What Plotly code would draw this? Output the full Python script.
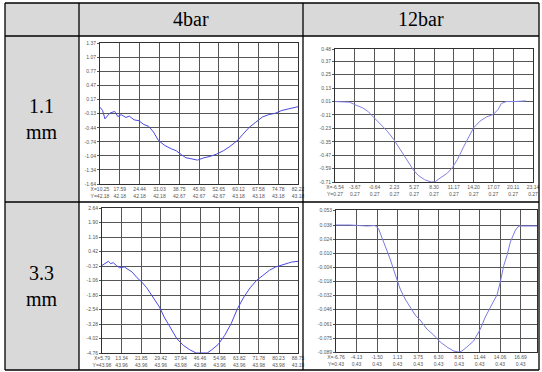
import plotly.graph_objects as go

W, H = 542, 372

# ---------------- data ----------------
col_headers = ["4bar", "12bar"]
row_headers = ["1.1<br>mm", "3.3<br>mm"]

# chart 1: 4bar, 1.1 mm
c1_x = [0, 0.13, 0.25, 0.49, 0.74, 0.9, 1.07, 1.31, 1.48, 1.72, 1.97, 2.21, 2.46, 2.7, 2.95, 3.28, 3.61,
        3.85, 4.1, 4.34, 4.59, 4.92, 5.25, 5.57, 5.9, 6.23, 6.56, 6.97, 7.21, 7.54, 7.87, 8.2, 8.52, 8.85,
        9.18, 9.5, 9.84, 10.0]
c1_y = [0.0, -0.07, -0.25, -0.13, -0.09, -0.20, -0.16, -0.22, -0.19, -0.27, -0.29, -0.37, -0.41, -0.53,
        -0.71, -0.82, -0.89, -0.93, -1.01, -1.08, -1.10, -1.13, -1.08, -1.05, -1.00, -0.93, -0.84, -0.70,
        -0.58, -0.43, -0.32, -0.21, -0.16, -0.13, -0.07, -0.04, 0.0, 0.01]
c1_yticks = ["1.37", "1.07", "0.77", "0.47", "0.17", "-0.13", "-0.44", "-0.74", "-1.04", "-1.34", "-1.64"]
c1_xticks = ["X=10.25<br>Y=42.18", "17.59<br>42.18", "24.44<br>42.18", "31.03<br>42.18", "38.75<br>42.67",
             "45.90<br>42.67", "52.65<br>42.67", "60.12<br>43.18", "67.58<br>43.18", "74.78<br>43.18",
             "82.22<br>43.18"]

# chart 2: 12bar, 1.1 mm
c2_x = [0, 0.74, 0.99, 1.4, 1.65, 1.98, 2.31, 2.64, 2.97, 3.29, 3.62, 3.95, 4.2, 4.53, 4.86, 5.06, 5.35,
        5.68, 5.93, 6.18, 6.51, 6.84, 7.0, 7.33, 7.66, 7.99, 8.24, 8.4, 8.65, 9.14, 9.64]
c2_y = [0.01, 0.004, -0.017, -0.047, -0.076, -0.136, -0.195, -0.255, -0.33, -0.42, -0.51, -0.60, -0.65,
        -0.69, -0.71, -0.707, -0.67, -0.63, -0.58, -0.51, -0.39, -0.284, -0.225, -0.165, -0.127, -0.106,
        -0.061, -0.008, 0.01, 0.01, 0.016]
c2_yticks = ["0.48", "0.37", "0.25", "0.13", "0.01", "-0.11", "-0.23", "-0.35", "-0.47", "-0.59", "-0.71"]
c2_xticks = ["X=-6.54<br>Y=0.27", "-3.67<br>0.27", "-0.64<br>0.27", "2.23<br>0.27", "5.27<br>0.27",
             "8.30<br>0.27", "11.17<br>0.27", "14.20<br>0.27", "17.07<br>0.27", "20.11<br>0.27",
             "23.14<br>0.27"]

# chart 3: 4bar, 3.3 mm
c3_x = [0, 0.16, 0.33, 0.44, 0.57, 0.73, 0.89, 1.14, 1.3, 1.54, 1.79, 2.03, 2.28, 2.6, 2.93, 3.17, 3.5,
        3.82, 4.15, 4.47, 4.8, 5.12, 5.37, 5.61, 5.93, 6.26, 6.59, 6.91, 7.24, 7.56, 7.89, 8.21, 8.54,
        8.86, 9.19, 9.51, 9.67, 10.0]
c3_y = [-0.29, -0.20, -0.08, -0.20, -0.15, -0.29, -0.41, -0.37, -0.46, -0.63, -0.92, -1.14, -1.43, -1.90,
        -2.41, -2.92, -3.52, -4.03, -4.37, -4.59, -4.76, -4.76, -4.76, -4.59, -4.32, -3.86, -3.26, -2.50,
        -1.90, -1.43, -1.05, -0.80, -0.54, -0.37, -0.25, -0.17, -0.12, -0.08]
c3_yticks = ["2.64", "1.90", "1.16", "0.42", "-0.32", "-1.06", "-1.80", "-2.54", "-3.28", "-4.02", "-4.76"]
c3_xticks = ["X=5.79<br>Y=43.98", "13.34<br>43.96", "21.85<br>43.96", "29.42<br>43.96", "37.94<br>43.98",
             "46.46<br>43.98", "54.96<br>43.96", "63.82<br>43.96", "71.78<br>43.98", "80.23<br>43.98",
             "88.75<br>43.19"]

# chart 4: 12bar, 3.3 mm
c4_x = [0, 0.68, 1.5, 1.9, 2.07, 2.23, 2.44, 2.64, 2.88, 3.13, 3.37, 3.62, 3.86, 4.1, 4.43, 4.76, 5.08,
        5.41, 5.73, 5.98, 6.14, 6.38, 6.71, 7.04, 7.28, 7.61, 7.85, 8.01, 8.18, 8.34, 8.5, 8.75, 8.91,
        9.32, 9.8]
c4_y = [0.038, 0.038, 0.037, 0.0375, 0.0344, 0.026, 0.016, 0.004, -0.011, -0.026, -0.036, -0.044, -0.052,
        -0.057, -0.066, -0.072, -0.079, -0.084, -0.088, -0.089, -0.088, -0.084, -0.078, -0.066, -0.054,
        -0.041, -0.032, -0.019, -0.0025, 0.0077, 0.021, 0.033, 0.037, 0.037, 0.037]
c4_yticks = ["0.053", "0.038", "0.024", "0.010", "-0.004", "-0.018", "-0.032", "-0.046", "-0.061",
             "-0.075", "-0.089"]
c4_xticks = ["X=-6.76<br>Y=0.43", "-4.13<br>0.43", "-1.50<br>0.43", "1.13<br>0.43", "3.75<br>0.43",
             "6.30<br>0.43", "8.81<br>0.43", "11.44<br>0.43", "14.06<br>0.43", "16.69<br>0.43",
             "19.32<br>0.43"]

# ---------------- layout helpers ----------------
def px(x):
    return x / W

def py(y):
    return 1 - y / H

charts = [
    dict(x=c1_x, y=c1_y, yt=c1_yticks, xt=c1_xticks, box=(100, 43, 298, 184), color="#4a4ae0", xmax=10),
    dict(x=c2_x, y=c2_y, yt=c2_yticks, xt=c2_xticks, box=(335, 49, 533, 182), color="#8080e0", xmax=10),
    dict(x=c3_x, y=c3_y, yt=c3_yticks, xt=c3_xticks, box=(102, 208, 298, 353), color="#4a4ae8", xmax=10),
    dict(x=c4_x, y=c4_y, yt=c4_yticks, xt=c4_xticks, box=(336, 210, 537, 352), color="#7a7ae0", xmax=9.8),
]

fig = go.Figure()
layout = dict(width=W, height=H, autosize=False, margin=dict(l=0, r=0, t=0, b=0, pad=0),
              paper_bgcolor="white", plot_bgcolor="white", showlegend=False)

tickfont = dict(family="Liberation Sans", size=5, color="#555555")

for i, c in enumerate(charts, start=1):
    xa = "x" if i == 1 else f"x{i}"
    ya = "y" if i == 1 else f"y{i}"
    fig.add_trace(go.Scatter(x=c["x"], y=c["y"], mode="lines", xaxis=xa, yaxis=ya,
                             line=dict(color=c["color"], width=1), hoverinfo="skip"))
    yvals = [float(v) for v in c["yt"]]
    x0, y0, x1, y1 = c["box"]
    layout["xaxis" if i == 1 else f"xaxis{i}"] = dict(
        domain=[px(x0), px(x1)], anchor=ya, range=[0, c["xmax"]], automargin=False,
        tickvals=list(range(11)), ticktext=c["xt"], showgrid=True, gridcolor="#555555", gridwidth=1,
        zeroline=False, showline=True, linecolor="#303030", linewidth=1, mirror=True,
        ticks="", tickfont=tickfont, fixedrange=True)
    layout["yaxis" if i == 1 else f"yaxis{i}"] = dict(
        domain=[py(y1), py(y0)], anchor=xa, range=[yvals[-1], yvals[0]], automargin=False,
        tickvals=yvals, ticktext=c["yt"], showgrid=True, gridcolor="#555555", gridwidth=1,
        zeroline=False, showline=True, linecolor="#303030", linewidth=1, mirror=True,
        ticks="outside", ticklen=2, tickcolor="#555555", tickfont=tickfont, fixedrange=True)

# ---------------- table ----------------
L, R, T, B = 5, 539, 3, 370
c_div = [79, 303]
r_div = [36, 202]
gray = "#d9d9d9"
shapes = []
shapes.append(dict(type="rect", xref="paper", yref="paper", x0=px(L), x1=px(R), y0=py(r_div[0]), y1=py(T),
                   fillcolor=gray, line=dict(width=0), layer="below"))
shapes.append(dict(type="rect", xref="paper", yref="paper", x0=px(L), x1=px(c_div[0]), y0=py(B), y1=py(T),
                   fillcolor=gray, line=dict(width=0), layer="below"))
line_style = dict(color="black", width=1.3)
for xv in [L] + c_div + [R]:
    shapes.append(dict(type="line", xref="paper", yref="paper", x0=px(xv), x1=px(xv), y0=py(T), y1=py(B),
                       line=line_style))
for yv in [T] + r_div + [B]:
    shapes.append(dict(type="line", xref="paper", yref="paper", x0=px(L), x1=px(R), y0=py(yv), y1=py(yv),
                       line=line_style))
layout["shapes"] = shapes

font_big = dict(family="Liberation Serif", size=20, color="black")
ann = []
col_centers = [(c_div[0] + c_div[1]) / 2, (c_div[1] + R) / 2]
for t, cx in zip(col_headers, col_centers):
    ann.append(dict(text=t, x=px(cx), y=py((T + r_div[0]) / 2), xref="paper", yref="paper",
                    showarrow=False, font=font_big, xanchor="center", yanchor="middle"))
row_centers = [(r_div[0] + r_div[1]) / 2, (r_div[1] + B) / 2]
for t, cy in zip(row_headers, row_centers):
    ann.append(dict(text=t, x=px((L + c_div[0]) / 2), y=py(cy), xref="paper", yref="paper",
                    showarrow=False, font=font_big, xanchor="center", yanchor="middle"))
layout["annotations"] = ann

fig.update_layout(**layout)
fig.write_html("out.html", config={"displayModeBar": False},
               post_script="document.body.style.margin='0px';")
